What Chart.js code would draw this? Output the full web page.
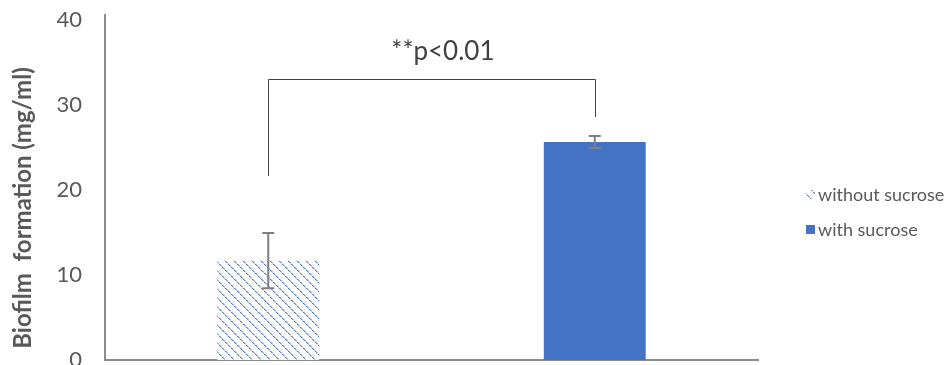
<!DOCTYPE html>
<html>
<head>
<meta charset="utf-8">
<script src="https://cdn.jsdelivr.net/npm/chart.js@4"></script>
<style>
  html, body { margin: 0; padding: 0; background: #ffffff; }
  #wrap { width: 951px; height: 365px; position: relative; }
</style>
</head>
<body>
<div id="wrap"><canvas id="c"></canvas></div>
<script>
// ---- data ----
const categories = ['without sucrose', 'with sucrose'];
const seriesLabels = ['without sucrose', 'with sucrose'];
const withoutSucrose = [11.7, null];
const withSucrose = [null, 25.65];
const errorSD = [3.25, 0.7];
const yTicks = [0, 10, 20, 30, 40];
const yTitle = 'Biofilm  formation (mg/ml)';
const sigLabel = '**p<0.01';
const bracketTop = 33.1;
const bracketLegEnds = [21.65, 28.6];
const sigLabelValue = 36.25;
const sigLabelCategoryPos = 0.535;

const FONT = 'Lato, "Open Sans", sans-serif';

// ---- pattern for "without sucrose" ----
function makePattern(ctx) {
  const n = 9;
  const t = document.createElement('canvas');
  t.width = n; t.height = n;
  const g = t.getContext('2d');
  g.fillStyle = '#ffffff';
  g.fillRect(0, 0, n, n);
  for (let i = 0; i < n; i++) {
    const k = i % 3;
    g.fillStyle = k === 0 ? '#4472C4' : (k === 1 ? '#6E90D0' : '#B7C9EA');
    g.fillRect(i, i, 1, 1);
    g.fillStyle = k === 2 ? '#E3EAF7' : '#A9BFE6';
    g.fillRect((i + 1) % n, i, 1, 1);
  }
  return ctx.createPattern(t, 'repeat');
}

const canvas = document.getElementById('c');
const ctx = canvas.getContext('2d');
const pattern = makePattern(ctx);
const solidBlue = '#4472C4';

const overlay = {
  id: 'overlay',
  afterDatasetsDraw(chart) {
    const c = chart.ctx;
    const x = chart.scales.x, y = chart.scales.y;
    const means = [withoutSucrose[0], withSucrose[1]];
    // error bars
    c.save();
    c.strokeStyle = '#7F7F7F';
    c.lineWidth = 2;
    means.forEach((m, i) => {
      const px = x.getPixelForValue(i);
      const yt = y.getPixelForValue(m + errorSD[i]);
      const yb = y.getPixelForValue(m - errorSD[i]);
      c.beginPath();
      c.moveTo(px, yt); c.lineTo(px, yb);
      c.moveTo(px - 6, yt); c.lineTo(px + 6, yt);
      c.moveTo(px - 6, yb); c.lineTo(px + 6, yb);
      c.stroke();
    });
    c.restore();
    // significance bracket
    c.save();
    c.strokeStyle = '#404040';
    c.lineWidth = 1;
    const x0 = Math.round(x.getPixelForValue(0)) + 0.5;
    const x1 = Math.round(x.getPixelForValue(1)) + 0.5;
    const yTop = Math.round(y.getPixelForValue(bracketTop)) + 0.5;
    c.beginPath();
    c.moveTo(x0, y.getPixelForValue(bracketLegEnds[0]));
    c.lineTo(x0, yTop);
    c.lineTo(x1, yTop);
    c.lineTo(x1, y.getPixelForValue(bracketLegEnds[1]));
    c.stroke();
    c.fillStyle = '#404040';
    c.font = '26px ' + FONT;
    c.textAlign = 'center';
    c.textBaseline = 'middle';
    c.fillText(sigLabel, x.getPixelForValue(sigLabelCategoryPos), y.getPixelForValue(sigLabelValue));
    c.restore();
  },
  afterDraw(chart) {
    const c = chart.ctx;
    // y-axis title
    c.save();
    c.translate(23, 208);
    c.rotate(-Math.PI / 2);
    c.font = 'bold 24px ' + FONT;
    c.fillStyle = '#595959';
    c.textAlign = 'center';
    c.textBaseline = 'middle';
    c.fillText(yTitle, 0, 0);
    c.restore();
    // legend
    c.save();
    c.font = '18px ' + FONT;
    c.textBaseline = 'middle';
    c.textAlign = 'left';
    const rows = [195, 230];
    chart.data.datasets.forEach((ds, i) => {
      const yy = rows[i];
      c.fillStyle = ds.backgroundColor;
      c.fillRect(806, yy - 5, 9, 9);
      c.fillStyle = '#595959';
      c.fillText(ds.label, 818, yy);
    });
    c.restore();
  }
};

new Chart(canvas, {
  type: 'bar',
  data: {
    labels: categories,
    datasets: [
      { label: seriesLabels[0], data: withoutSucrose, backgroundColor: pattern, borderWidth: 0 },
      { label: seriesLabels[1], data: withSucrose, backgroundColor: solidBlue, borderWidth: 0 }
    ]
  },
  options: {
    responsive: true,
    maintainAspectRatio: false,
    animation: false,
    events: [],
    layout: { padding: { left: 0, right: 193, top: 15, bottom: 5 } },
    datasets: { bar: { barPercentage: 0.312, categoryPercentage: 1.0 } },
    plugins: { legend: { display: false }, tooltip: { enabled: false } },
    scales: {
      x: {
        stacked: true,
        grid: { display: false },
        ticks: { display: false },
        border: { display: true, color: '#8C8C8C', width: 2 },
        afterFit(s) { s.height = 0; }
      },
      y: {
        min: 0,
        max: 40.6,
        grid: { display: false, drawTicks: false },
        border: { display: true, color: '#8C8C8C', width: 2 },
        afterBuildTicks(s) { s.ticks = yTicks.map(v => ({ value: v })); },
        ticks: {
          color: '#595959',
          font: { family: FONT, size: 22 },
          padding: 23,
          callback: (v) => String(v)
        },
        title: { display: false },
        afterFit(s) { s.width = 105; s.paddingTop = 0; s.paddingBottom = 0; }
      }
    }
  },
  plugins: [overlay]
});
</script>
</body>
</html>
